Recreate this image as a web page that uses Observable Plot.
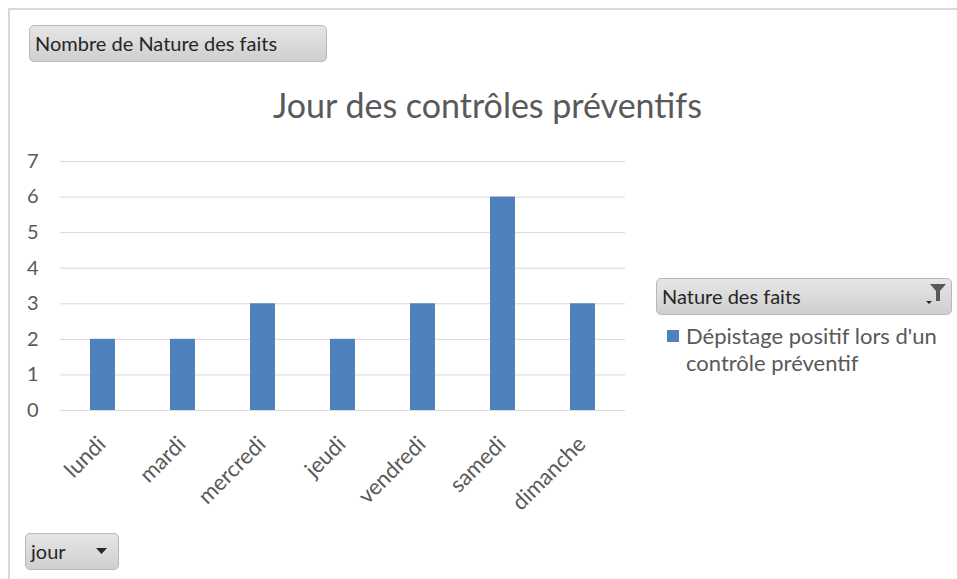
<!DOCTYPE html>
<html><head><meta charset="utf-8">
<script src="https://cdn.jsdelivr.net/npm/d3@7"></script>
<script src="https://cdn.jsdelivr.net/npm/@observablehq/plot@0.6"></script>
<style>
html,body{margin:0;padding:0;background:#fff;}
#wrap{position:relative;width:957px;height:579px;overflow:hidden;font-family:Lato,"Open Sans",sans-serif;}
#frame{position:absolute;left:8px;top:8px;width:960px;height:600px;border-left:2px solid #d9d9d9;border-top:2px solid #d9d9d9;}
.btn{position:absolute;box-sizing:border-box;border:1px solid #b8b8b8;border-radius:5px;background:linear-gradient(#e6e6e6,#cfcfcf);color:#262626;font-size:20px;line-height:35px;padding-left:5px;white-space:nowrap;}
#title{position:absolute;left:0;width:975px;text-align:center;top:84px;font-size:34px;color:#595959;}
#legend{position:absolute;left:667px;top:322px;font-size:22px;color:#595959;line-height:27px;}
#legend .sw{position:absolute;left:0;top:8px;width:12px;height:12px;background:#4F81BD;}
#legend .tx{margin-left:19px;}
#chart{position:absolute;left:0;top:0;}
</style></head>
<body><div id="wrap">
<div id="frame"></div>
<div id="chart"></div>
<div id="title">Jour des contrôles préventifs</div>
<div class="btn" style="left:29px;top:25px;width:298px;height:37px;">Nombre de Nature des faits</div>
<div class="btn" style="left:656px;top:278px;width:296px;height:37px;">Nature des faits
  <svg style="position:absolute;right:4px;top:2px" width="26" height="28" viewBox="0 0 26 28">
    <path d="M9 3 L25 3 L19 10 L19 20 L15 20 L15 10 Z" fill="#595959"/>
    <path d="M5 20 L11 20 L8 23 Z" fill="#262626"/>
  </svg>
</div>
<div class="btn" style="left:25px;top:533px;width:94px;height:37px;">jour
  <svg style="position:absolute;left:70px;top:14px" width="12" height="8"><path d="M0 0 L11 0 L5.5 6 Z" fill="#262626"/></svg>
</div>
<div id="legend"><div class="sw"></div><div class="tx">Dépistage positif lors d'un<br>contrôle préventif</div></div>
</div>
<script>
const days = ["lundi","mardi","mercredi","jeudi","vendredi","samedi","dimanche"];
const counts = [2,2,3,2,3,6,3];
const yTicks = [0,1,2,3,4,5,6,7];
const data = days.map((d,i)=>({jour:d, n:counts[i]}));

const chart = Plot.plot({
  width: 957,
  height: 579,
  marginLeft: 60,
  marginRight: 332,
  marginTop: 161,
  marginBottom: 169,
  style: {fontFamily: "Lato, 'Open Sans', sans-serif", background: "transparent", color: "#595959"},
  x: {domain: days, paddingInner: 0.69, paddingOuter: 0.345, label: null},
  y: {domain: [0,7], ticks: yTicks, label: null},
  marks: [
    Plot.gridY(yTicks, {stroke: "#d9d9d9", strokeOpacity: 1, strokeWidth: 1}),
    Plot.barY(data, {x: "jour", y: "n", fill: "#4F81BD"}),
    Plot.axisY(yTicks, {tickSize: 0, tickPadding: 0, dx: -22, fontSize: 20, fill: "#595959", textAnchor: "end", label: null}),
    Plot.axisX({tickSize: 0, tickRotate: -45, fontSize: 22, fill: "#595959", tickPadding: 6, dx: -1, dy: 24, label: null})
  ]
});
document.getElementById("chart").appendChild(chart);
</script>
</body></html>
